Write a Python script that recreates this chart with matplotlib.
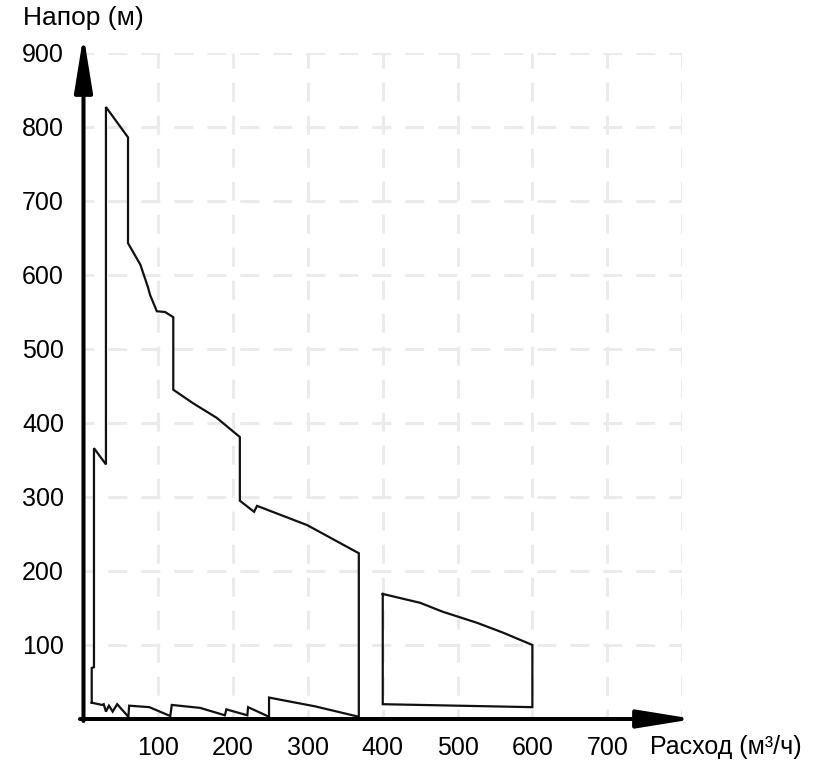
import matplotlib
matplotlib.use("Agg")
import matplotlib.pyplot as plt
from matplotlib.patches import FancyArrowPatch, ArrowStyle

plt.rcParams['font.family'] = ['Liberation Sans', 'DejaVu Sans']

# main envelope: up the left side, over the top, down, back along the bottom
main_q = [11, 11, 14, 14, 30, 30, 59.5, 59.5, 76, 86, 89, 98, 109, 120, 120,
          146, 178, 209, 209, 228, 232, 299, 368, 368,
          310, 253, 248, 248, 220, 219, 191, 189, 156, 118, 116, 88, 61, 60,
          45, 39, 34, 30, 27, 25, 11]
main_h = [22, 69, 70, 366, 344, 827, 786, 643, 614, 584, 573, 551, 550, 543, 445,
          427, 407, 381, 295, 280, 288, 262, 224, 3,
          17, 28, 29, 3, 16, 5, 13, 5, 15, 19, 4, 16, 18, 3,
          20, 10, 18, 10, 20, 19, 22]

# second pump range
right_q = [400, 450, 480, 526, 560, 600, 600, 400, 400]
right_h = [169, 157, 145, 130, 117, 100, 16, 20, 169]

x_ticks = [100, 200, 300, 400, 500, 600, 700]
y_ticks = [100, 200, 300, 400, 500, 600, 700, 800, 900]

fig = plt.figure(figsize=(8.25, 7.69), dpi=100)
ax = fig.add_axes([83.5 / 825, 50 / 769, 598.5 / 825, 666 / 769])
ax.set_xlim(0, 800)
ax.set_ylim(0, 900)

# dashed light grid
grid_kw = dict(color='#ebebeb', lw=2.2, linestyle=(3, (6.2, 4.6)), zorder=0)
for gx in range(100, 900, 100):
    ax.axvline(gx, **grid_kw)
for gy in range(100, 1000, 100):
    ax.axhline(gy, **grid_kw)

ax.plot(main_q, main_h, color='#111111', lw=1.6, solid_joinstyle='miter', zorder=3)
ax.plot(right_q, right_h, color='#111111', lw=1.6, solid_joinstyle='miter', zorder=3)

for s in ax.spines.values():
    s.set_visible(False)
ax.set_xticks(x_ticks)
ax.set_yticks(y_ticks)
ax.tick_params(length=0, labelsize=18)
ax.tick_params(axis='x', pad=12)
ax.tick_params(axis='y', pad=14)

# arrow axes
style = ArrowStyle('-|>', head_length=34, head_width=5.5)
ax.add_patch(FancyArrowPatch((0, -0.003), (0, 1.027), transform=ax.transAxes,
                             arrowstyle=style, mutation_scale=1, lw=2.9,
                             color='black', clip_on=False, zorder=5,
                             shrinkA=0, shrinkB=0))
ax.add_patch(FancyArrowPatch((-0.006, 0), (1.02, 0), transform=ax.transAxes,
                             arrowstyle=style, mutation_scale=1, lw=2.9,
                             color='black', clip_on=False, zorder=5,
                             shrinkA=0, shrinkB=0))

fig.text(23 / 825, 1 - 6 / 769, 'Напор (м)', fontsize=19, ha='left', va='top')
fig.text(650 / 825, 1 - 754 / 769, 'Расход (м³/ч)', fontsize=18,
         ha='left', va='baseline')

fig.savefig('out.png', dpi=100)
